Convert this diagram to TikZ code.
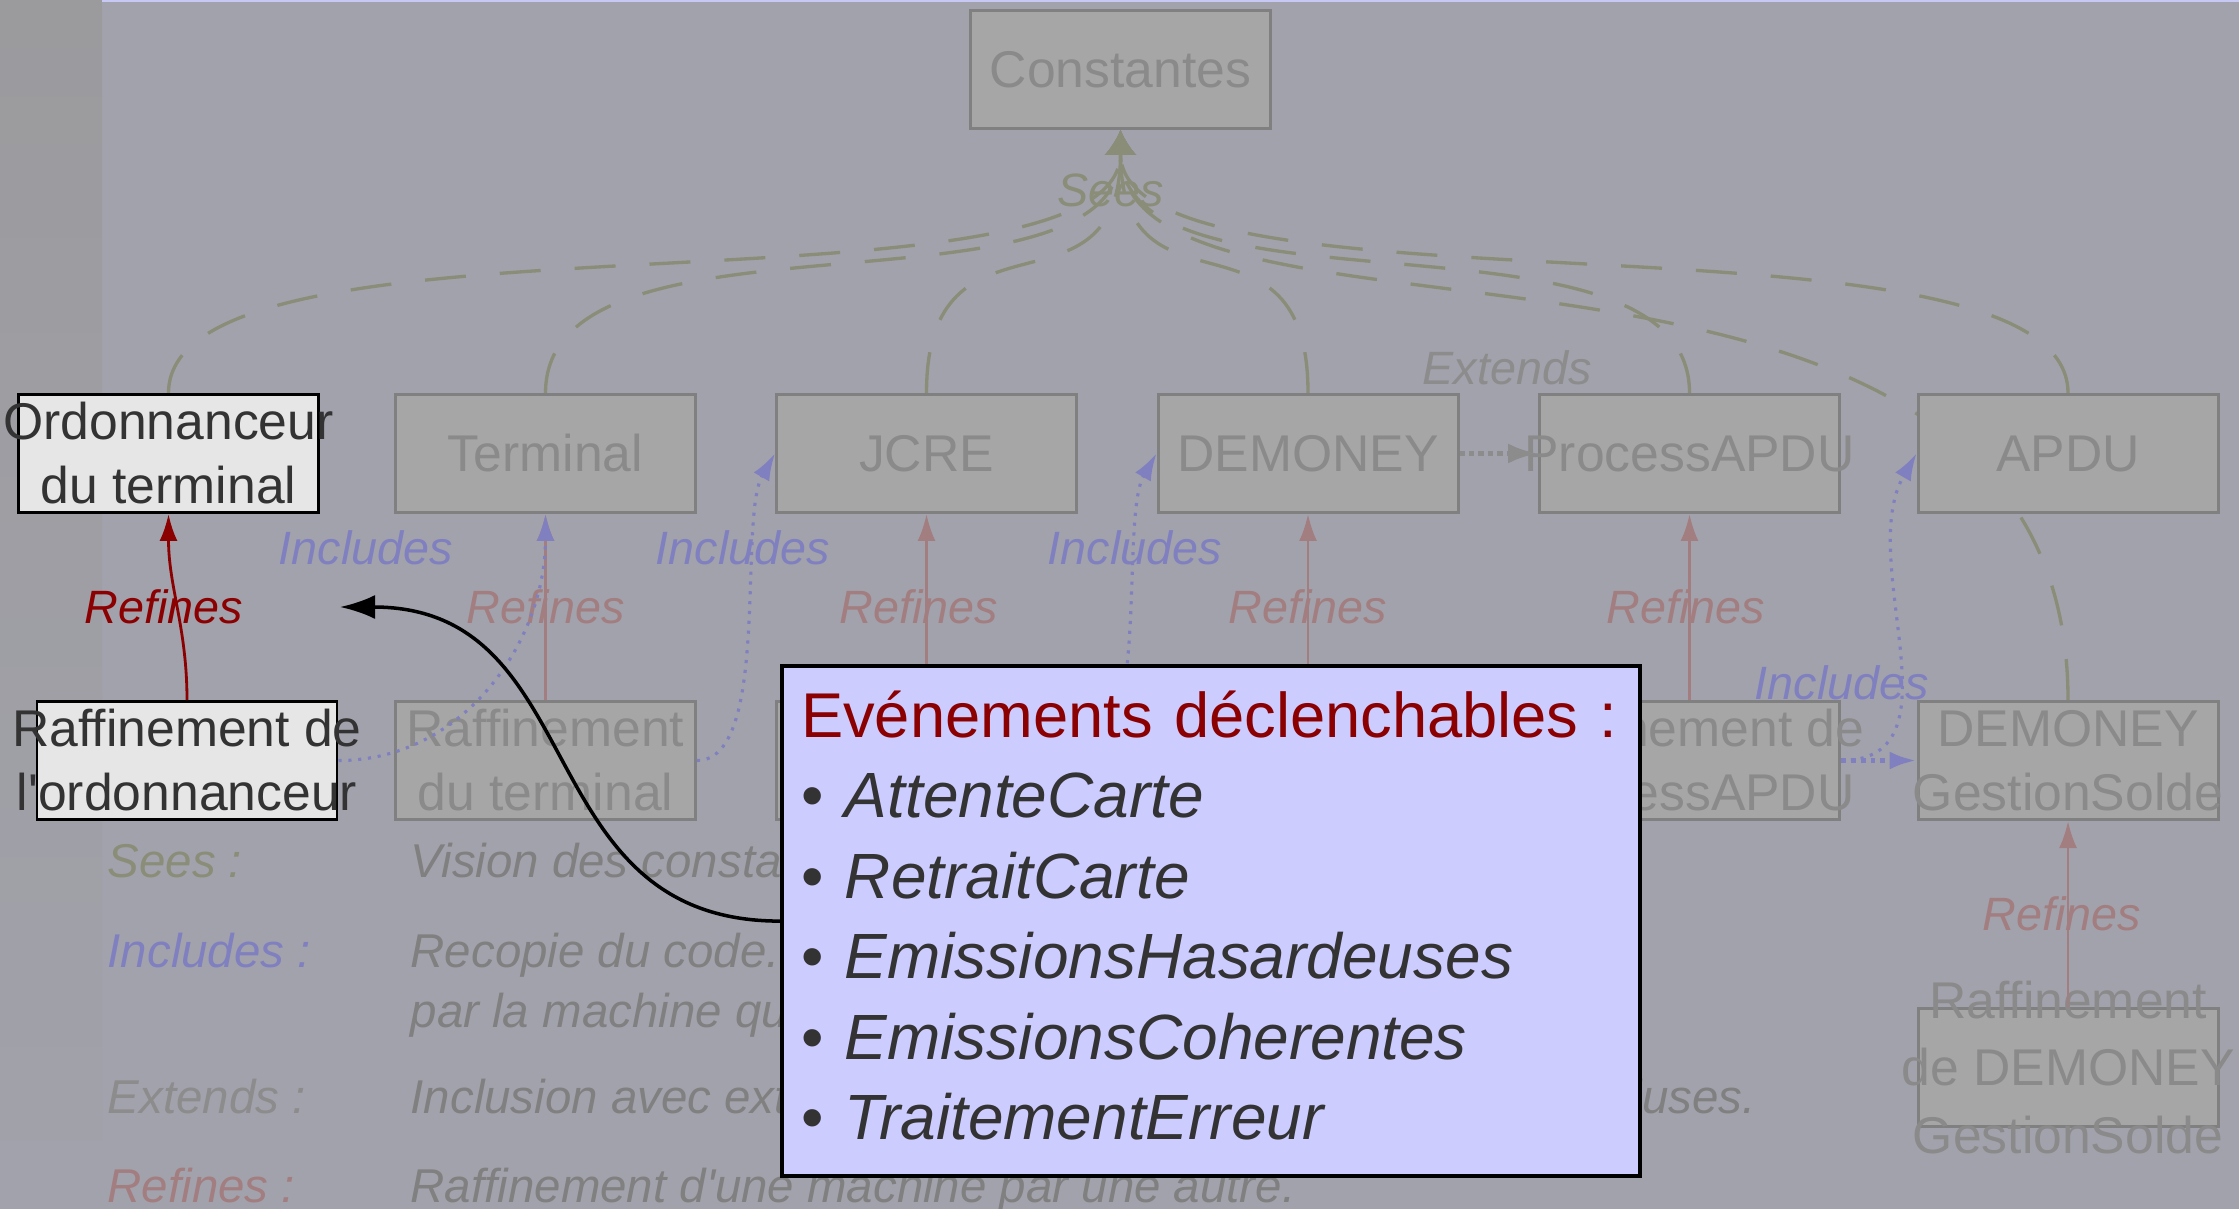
\documentclass[tikz,border=0pt]{standalone}
\usepackage{fontspec}
\setmainfont{Liberation Sans}
\newfontfamily\nomapfont{Liberation Sans}
\newcommand{\sq}{{\nomapfont\char39}}
\usetikzlibrary{arrows.meta}
\definecolor{bgmain}{RGB}{162,162,172}
\definecolor{bgstrip}{RGB}{155,155,158}
\definecolor{bgstripb}{RGB}{161,161,170}
\definecolor{topline}{RGB}{200,200,245}
\definecolor{dimfill}{RGB}{166,166,166}
\definecolor{dimdraw}{RGB}{128,128,128}
\definecolor{dimtext}{RGB}{138,138,138}
\definecolor{seescol}{RGB}{138,142,120}
\definecolor{refcol}{RGB}{162,126,128}
\definecolor{inccol}{RGB}{128,128,192}
\definecolor{extcol}{RGB}{140,140,140}
\definecolor{hifill}{RGB}{230,230,230}
\definecolor{hitext}{RGB}{51,51,51}
\definecolor{darkred}{RGB}{139,0,0}
\definecolor{popfill}{RGB}{204,204,255}
\definecolor{legtext}{RGB}{128,128,128}
\begin{document}
\begin{tikzpicture}[x=0.1mm,y=-0.1mm,
  dimbox/.style={draw=dimdraw,fill=dimfill,line width=0.85pt,minimum width=30mm,minimum height=11.8mm,inner sep=0pt},
  hibox/.style={dimbox,draw=black,fill=hifill},
  dimtxt/.style={text=dimtext,font=\fontsize{14.7}{18.2}\selectfont,align=center,inner sep=0pt},
  hitxt/.style={dimtxt,text=hitext},
  seesline/.style={draw=seescol,line width=0.95pt,dash pattern=on 4.1mm off 3.4mm,-{Latex[length=2.5mm,width=3.2mm]}},
  refline/.style={draw=refcol,line width=0.8pt,-{Latex[length=2.7mm,width=1.8mm]}},
  incline/.style={draw=inccol,line width=0.9pt,dash pattern=on 0.9pt off 1.9pt,-{Latex[length=2.7mm,width=1.8mm]}},
  extline/.style={draw=extcol,line width=1.5pt,dash pattern=on 1.5pt off 1.2pt,-{Latex[length=3mm,width=2mm]}},
  edgelab/.style={font=\fontsize{13.3}{16}\selectfont\itshape,inner sep=0pt},
  reflab/.style={edgelab,text=refcol},
  inclab/.style={edgelab,text=inccol},
  leglab/.style={font=\fontsize{13.5}{17}\selectfont\itshape,anchor=base west,inner sep=0pt},
  legtxt/.style={leglab,text=legtext,align=left},
  popbox/.style={draw=black,fill=popfill,line width=1.2pt,minimum width=85.8mm,minimum height=51mm,
    inner xsep=1.9mm,inner ysep=0pt,text width=82mm,align=left,text=hitext,
    font=\fontsize{18.2}{22.9}\selectfont},
  ptrline/.style={draw=black,line width=1pt,-{Latex[length=3.5mm,width=2.4mm]}}
]
\useasboundingbox (0,0) rectangle (2239,1209);
\fill[bgmain] (0,0) rectangle (2239,1209);
\shade[top color=bgstrip,bottom color=bgstripb] (0,0) rectangle (102,1140);
\fill[topline] (102,0) rectangle (2239,1.6);

% nodes (boxes)
\node[dimbox] (const) at (1120.5,69.5) {};
\node[dimbox] (ord) at (168.5,453.5) {};
\node[dimbox] (term) at (545.5,453.5) {};
\node[dimbox] (jcre) at (926.5,453.5) {};
\node[dimbox] (demo) at (1308,453.5) {};
\node[dimbox] (papdu) at (1689.5,453.5) {};
\node[dimbox] (apdu) at (2068,453.5) {};
\node[dimbox] (rord) at (187,760.5) {};
\node[dimbox] (rterm) at (545.5,760.5) {};
\node[dimbox] (rjcre) at (926.5,760.5) {};
\node[dimbox] (rdemo) at (1308,760.5) {};
\node[dimbox] (rpapdu) at (1689.5,760.5) {};
\node[dimbox] (gsolde) at (2068,760.5) {};
\node[dimbox] (rgs) at (2068,1067.5) {};

% sees connectors
\draw[seesline] (ord.north) .. controls +(0,-200) and +(0,200) .. (const.south);
\draw[seesline] (term.north) .. controls +(0,-200) and +(0,200) .. (const.south);
\draw[seesline] (jcre.north) .. controls +(0,-200) and +(0,200) .. (const.south);
\draw[seesline] (demo.north) .. controls +(0,-200) and +(0,200) .. (const.south);
\draw[seesline] (papdu.north) .. controls +(0,-200) and +(0,200) .. (const.south);
\draw[seesline] (apdu.north) .. controls +(0,-200) and +(0,200) .. (const.south);
\draw[seesline] (gsolde.north) .. controls +(0,-550) and +(0,260) .. (const.south);

% redraw boxes over the sees lines
\node[dimbox] (const-b) at (const) {};
\node[hibox] (ord-b) at (ord) {};
\node[dimbox] (term-b) at (term) {};
\node[dimbox] (jcre-b) at (jcre) {};
\node[dimbox] (demo-b) at (demo) {};
\node[dimbox] (papdu-b) at (papdu) {};
\node[dimbox] (apdu-b) at (apdu) {};
\node[hibox] (rord-b) at (rord) {};

% box texts
\node[dimtxt] (const-t) at (const) {Constantes};
\node[hitxt] (ord-t) at (ord) {Ordonnanceur\\du terminal};
\node[dimtxt] (term-t) at (term) {Terminal};
\node[dimtxt] (jcre-t) at (jcre) {JCRE};
\node[dimtxt] (demo-t) at (demo) {DEMONEY};
\node[dimtxt] (papdu-t) at (papdu) {ProcessAPDU};
\node[dimtxt] (apdu-t) at (apdu) {APDU};
\node[hitxt] (rord-t) at (rord) {Raffinement de\\l\sq ordonnanceur};
\node[dimtxt] (rterm-t) at (rterm) {Raffinement\\du terminal};
\node[dimtxt] (rpapdu-t) at (rpapdu) {Raffinement de\\ProcessAPDU};
\node[dimtxt] (gsolde-t) at (gsolde) {DEMONEY\\GestionSolde};
\node[dimtxt,font=\fontsize{14.7}{19.2}\selectfont] (rgs-t) at (rgs) {Raffinement\\de DEMONEY\\GestionSolde};

% refines connectors
\draw[refline,draw=darkred] (rord.north) to[out=90,in=-90] node[reflab,text=darkred,xshift=-1.4mm]{Refines} (ord.south);
\draw[refline] (rterm.north) -- node[reflab]{Refines} (term.south);
\draw[refline] (rjcre.north) -- node[reflab,xshift=-0.8mm]{Refines} (jcre.south);
\draw[refline] (rdemo.north) -- node[reflab]{Refines} (demo.south);
\draw[refline] (rpapdu.north) -- node[reflab,xshift=-0.4mm]{Refines} (papdu.south);
\draw[refline] (rgs.north) -- node[reflab,xshift=-0.6mm]{Refines} (gsolde.south);

% includes connectors
\draw[incline] (rord.east) to[out=0,in=-90] (term.south);
\draw[incline] (rterm.east) to[out=0,in=-120,looseness=0.6] (jcre.west);
\draw[incline] (rjcre.east) to[out=0,in=-120,looseness=0.6] (demo.west);
\draw[incline] (rpapdu.east) to[out=0,in=-120] (apdu.west);
\draw[incline,line width=1.4pt,dash pattern=on 1.4pt off 1.4pt] (rpapdu.east) -- (gsolde.west);
\node[inclab] (li1) at (366,548) {Includes};
\node[inclab] (li2) at (743,548) {Includes};
\node[inclab] (li3) at (1135,548) {Includes};
\node[inclab] (li4) at (1842,683) {Includes};

% extends
\draw[extline] (demo.east) -- (papdu.west);
\node[edgelab,text=extcol] (lext) at (1507,368) {Extends};
\node[edgelab,text=seescol] (lsees) at (1111,190) {Sees};

% legend
\node[leglab,text=seescol] (lg1) at (107,877) {Sees :};
\node[legtxt] (lt1) at (410,877) {Vision des constantes.};
\node[leglab,text=inccol] (lg2) at (107,967) {Includes :};
\node[legtxt] (lt2) at (410,1027) {Recopie du code. Les opérations sont utilisables\\par la machine qui l\sq inclut.};
\node[leglab,text=extcol] (lg3) at (107,1113) {Extends :};
\node[legtxt] (lt3) at (410,1113) {Inclusion avec extension des opérations des machines incluses.};
\node[leglab,text=refcol] (lg4) at (107,1202) {Refines :};
\node[legtxt] (lt4) at (410,1202) {Raffinement d\sq une machine par une autre.};

% popup
\node[popbox,anchor=north west] (popup) at (780,664) {%
\mbox{\color{darkred}\fontsize{18}{22.9}\selectfont Evénements déclenchables :}\\
\textbullet\ \textit{AttenteCarte}\\
\textbullet\ \textit{RetraitCarte}\\
\textbullet\ \textit{EmissionsHasardeuses}\\
\textbullet\ \textit{EmissionsCoherentes}\\
\textbullet\ \textit{TraitementErreur}\par\vspace*{1.1mm}};
\coordinate (ptr) at (340,607);
\draw[ptrline] (popup.west) to[out=180,in=0,looseness=1.2] (ptr);
\end{tikzpicture}
\end{document}
